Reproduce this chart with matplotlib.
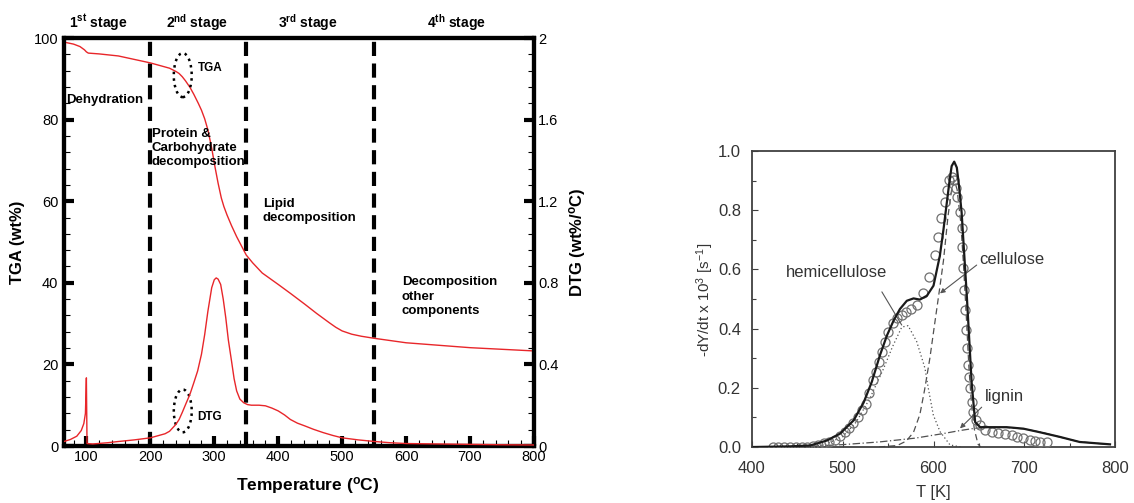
import matplotlib
matplotlib.use('Agg')
import matplotlib.pyplot as plt
from matplotlib.ticker import MultipleLocator, FuncFormatter
from matplotlib.patches import Ellipse

plt.rcParams['font.family'] = ['Liberation Sans', 'DejaVu Sans']
plt.rcParams['mathtext.fontset'] = 'custom'
plt.rcParams['mathtext.rm'] = 'Liberation Sans'
plt.rcParams['mathtext.bf'] = 'Liberation Sans:bold'
plt.rcParams['mathtext.it'] = 'Liberation Sans:italic'

# ---------------- Left chart data (TGA / DTG of biomass) ----------------
tga_temp = [65, 80, 90, 97, 100, 103, 120, 150, 200, 230, 240, 245, 250, 255, 262,
            268, 275, 280, 285, 290, 296, 301, 306, 311, 315, 320, 327, 335, 342,
            350, 360, 375, 400, 420, 442, 460, 480, 490, 500, 515, 530, 550, 600,
            650, 700, 750, 800]
tga_wt = [99.0, 98.5, 97.9, 97.1, 96.6, 96.3, 96.1, 95.6, 93.9, 92.6, 91.8, 91.3,
          90.5, 89.5, 87.9, 86.2, 84.0, 82.3, 80.2, 77.5, 73.0, 68.5, 64.4, 60.8,
          58.7, 56.6, 54.0, 51.3, 49.2, 46.8, 44.9, 42.4, 39.6, 37.3, 34.7, 32.5,
          30.2, 29.1, 28.2, 27.4, 26.9, 26.4, 25.3, 24.7, 24.1, 23.7, 23.3]

dtg_temp = [65, 75, 85, 92, 96, 98.5, 100, 101, 110, 133, 150, 175, 200, 223, 230,
            240, 245, 250, 256, 262, 268, 274, 280, 285, 290, 296, 300, 303, 306,
            310, 314, 318, 322, 327, 331, 335, 340, 346, 352, 358, 370, 380, 390,
            400, 410, 419, 430, 442, 455, 470, 485, 500, 525, 551, 575, 601, 650,
            702, 750, 800]
dtg_rate = [0.022, 0.032, 0.048, 0.076, 0.110, 0.160, 0.334, 0.012, 0.010, 0.016,
            0.022, 0.030, 0.040, 0.060, 0.072, 0.106, 0.130, 0.165, 0.210, 0.254,
            0.310, 0.368, 0.450, 0.546, 0.660, 0.776, 0.815, 0.824, 0.818, 0.792,
            0.720, 0.628, 0.520, 0.416, 0.330, 0.270, 0.230, 0.212, 0.203, 0.200,
            0.200, 0.197, 0.186, 0.172, 0.152, 0.130, 0.112, 0.098, 0.082, 0.066,
            0.052, 0.040, 0.030, 0.022, 0.016, 0.012, 0.010, 0.008, 0.006, 0.005]

stage_bounds = [200, 350, 550]
stage_names = ['1$^{\\mathbf{st}}$ stage', '2$^{\\mathbf{nd}}$ stage',
               '3$^{\\mathbf{rd}}$ stage', '4$^{\\mathbf{th}}$ stage']
stage_centers = [118, 273, 447, 679]

# ---------------- Right chart data (pyrolysis rate, T in K) ----------------
exp_T = [422.8, 429.0, 435.6, 441.9, 448.5, 454.7, 461.0, 467.6, 473.1, 479.3,
         485.2, 491.5, 497.0, 502.5, 506.9, 511.7, 517.2, 521.6, 525.3, 528.9,
         533.0, 536.3, 539.9, 542.9, 546.6, 550.2, 555.0, 559.4, 564.9, 569.7,
         575.2, 581.5, 588.8, 595.0, 601.7, 604.6, 607.9, 612.7, 614.5, 617.4,
         620.0, 622.6, 624.8, 626.3, 629.2, 631.0, 631.8, 632.9, 633.6, 634.7,
         635.8, 636.5, 637.6, 638.8, 640.2, 642.1, 643.9, 646.8, 651.2, 656.7,
         664.1, 671.4, 678.8, 686.1, 692.4, 699.0, 706.3, 711.8, 717.4, 724.7]
exp_rate = [0.0, 0.0, 0.0, 0.0, 0.0, 0.001, 0.001, 0.003, 0.007, 0.012,
            0.018, 0.024, 0.037, 0.052, 0.063, 0.080, 0.102, 0.125, 0.145, 0.181,
            0.226, 0.255, 0.288, 0.322, 0.356, 0.390, 0.418, 0.435, 0.446, 0.457,
            0.466, 0.480, 0.519, 0.575, 0.649, 0.711, 0.773, 0.829, 0.868, 0.902,
            0.913, 0.902, 0.874, 0.846, 0.795, 0.739, 0.677, 0.604, 0.530, 0.463,
            0.395, 0.333, 0.277, 0.238, 0.198, 0.153, 0.119, 0.091, 0.074, 0.057,
            0.052, 0.046, 0.044, 0.041, 0.035, 0.029, 0.024, 0.021, 0.018, 0.018]

model_T = [402, 440, 464, 482.6, 497, 512, 523, 532, 541, 548.6, 556, 563, 570.6,
           578, 585, 592.7, 600, 607, 611, 614.7, 617.5, 620, 622.8, 625.7, 628,
           631, 636.7, 642, 645.9, 651.4, 662.4, 680.7, 699, 717, 739.4, 761, 794.5]
model_rate = [0.0, 0.002, 0.005, 0.022, 0.045, 0.09, 0.15, 0.22, 0.31, 0.376,
              0.427, 0.466, 0.494, 0.502, 0.498, 0.511, 0.545, 0.646, 0.735, 0.826,
              0.895, 0.949, 0.964, 0.944, 0.885, 0.792, 0.511, 0.219, 0.084, 0.067,
              0.067, 0.067, 0.062, 0.05, 0.034, 0.017, 0.009]

hemi_T = [460, 480, 500, 515, 530, 545, 555, 565, 572, 581.5, 590.6, 594.3, 599.8,
          607.2, 618.2, 630]
hemi_rate = [0.0, 0.008, 0.035, 0.085, 0.165, 0.265, 0.340, 0.405, 0.410, 0.356,
             0.266, 0.198, 0.108, 0.052, 0.007, 0.0]

cell_T = [540, 560, 570, 578, 585, 590, 596, 601, 607, 611, 616, 620, 623, 626,
          630, 633, 636, 639, 642, 645, 649, 652]
cell_rate = [0.0, 0.005, 0.02, 0.05, 0.11, 0.19, 0.30, 0.41, 0.54, 0.63, 0.78,
             0.87, 0.90, 0.87, 0.76, 0.62, 0.45, 0.27, 0.14, 0.06, 0.01, 0.0]

lig_T = [420, 460, 500, 540, 580, 610, 630, 645, 660, 680, 700, 720, 740, 760, 795]
lig_rate = [0.0, 0.002, 0.008, 0.017, 0.030, 0.045, 0.056, 0.063, 0.066, 0.066,
            0.061, 0.049, 0.033, 0.018, 0.008]

# ======================================================================
W, H = 1134, 503
fig = plt.figure(figsize=(W / 100, H / 100), dpi=100)

RED = '#e8262a'

# ---------------- Left chart ----------------
ax1 = fig.add_axes([64 / W, (H - 446) / H, 470 / W, 408 / H])
ax2 = ax1.twinx()

ax1.plot(tga_temp, tga_wt, color=RED, lw=1.0, zorder=3)
ax2.plot(dtg_temp, dtg_rate, color=RED, lw=1.0, zorder=3)

ax1.set_xlim(65, 800)
ax1.set_ylim(0, 100)
ax2.set_ylim(0, 2)

for sp in ax1.spines.values():
    sp.set_linewidth(3)
for sp in ax2.spines.values():
    sp.set_linewidth(3)

ax1.xaxis.set_major_locator(MultipleLocator(100))
ax1.xaxis.set_minor_locator(MultipleLocator(20))
ax1.yaxis.set_major_locator(MultipleLocator(20))
ax1.yaxis.set_minor_locator(MultipleLocator(4))
ax2.yaxis.set_major_locator(MultipleLocator(0.4))
ax2.yaxis.set_minor_locator(MultipleLocator(0.08))
ax2.yaxis.set_major_formatter(FuncFormatter(lambda v, p: '%g' % round(v, 2)))

for a in (ax1, ax2):
    a.tick_params(which='major', direction='in', length=7, width=3, labelsize=10.5, pad=3)
    a.tick_params(which='minor', direction='in', length=4, width=0.8)
ax1.tick_params(axis='both', which='both', top=False, right=False)
ax1.tick_params(axis='y', pad=4)

for xb in stage_bounds:
    ax1.axvline(xb, color='black', lw=3, ls=(0, (3.4, 1.8)), zorder=2)

trans = ax1.get_xaxis_transform()
for name, xc in zip(stage_names, stage_centers):
    ax1.text(xc, 1.037, name, transform=trans, ha='center', va='center',
             fontsize=10, fontweight='bold')

ax1.text(68.5, 84.8, 'Dehydration', fontsize=9.5, fontweight='bold', va='center', ha='left')
ax1.text(202, 78.0, 'Protein &\nCarbohydrate\ndecomposition', fontsize=9.5,
         fontweight='bold', va='top', ha='left', linespacing=1.25)
ax1.text(376, 60.8, 'Lipid\ndecomposition', fontsize=9.5, fontweight='bold',
         va='top', ha='left', linespacing=1.25)
ax1.text(593, 41.6, 'Decomposition\nother\ncomponents', fontsize=9.5,
         fontweight='bold', va='top', ha='left', linespacing=1.25)
ax1.text(274, 92.6, 'TGA', fontsize=8.5, fontweight='bold', va='center', ha='left')
ax1.text(274, 7.1, 'DTG', fontsize=8.5, fontweight='bold', va='center', ha='left')

ax1.add_patch(Ellipse((250.7, 90.9), 28, 10.8, fill=False, ls=':', lw=1.8,
                      edgecolor='black', zorder=4))
ax1.add_patch(Ellipse((250.7, 8.6), 28, 10.5, fill=False, ls=':', lw=1.8,
                      edgecolor='black', zorder=4))

fig.text(18 / W, 1 - 242 / H, 'TGA (wt%)', rotation=90, ha='center', va='center',
         fontsize=12, fontweight='bold')
fig.text(578 / W, 1 - 242 / H, 'DTG (wt%/$^{\\mathbf{o}}$C)', rotation=90,
         ha='center', va='center', fontsize=12, fontweight='bold')
fig.text(308 / W, 1 - 486 / H, 'Temperature ($^{\\mathbf{o}}$C)', ha='center',
         va='center', fontsize=12.5, fontweight='bold')

# ---------------- Right chart ----------------
GRAY = '#404040'
ax3 = fig.add_axes([752 / W, (H - 447) / H, 363 / W, 296 / H])
ax3.plot(model_T, model_rate, color='#1a1a1a', lw=1.6, zorder=4)
ax3.plot(exp_T, exp_rate, ls='none', marker='o', ms=6.5, mfc='none',
         mec='#707070', mew=0.9, zorder=3)
ax3.plot(hemi_T, hemi_rate, color='#505050', lw=0.9, ls=(0, (1, 2)), zorder=2)
ax3.plot(cell_T, cell_rate, color='#505050', lw=0.9, ls=(0, (5, 3)), zorder=2)
ax3.plot(lig_T, lig_rate, color='#505050', lw=0.9, ls=(0, (6, 2, 1, 2)), zorder=2)

ax3.set_xlim(400, 800)
ax3.set_ylim(0, 1.0)
ax3.xaxis.set_major_locator(MultipleLocator(100))
ax3.xaxis.set_minor_locator(MultipleLocator(50))
ax3.yaxis.set_major_locator(MultipleLocator(0.2))
ax3.yaxis.set_minor_locator(MultipleLocator(0.1))
ax3.yaxis.set_major_formatter(FuncFormatter(lambda v, p: '%.1f' % v))
ax3.tick_params(which='both', direction='in', color=GRAY, labelcolor='#333333',
                labelsize=12, top=False, right=False)
ax3.tick_params(axis='x', pad=10)
ax3.tick_params(axis='y', pad=8)
ax3.tick_params(which='major', length=4, width=0.8)
ax3.tick_params(which='minor', length=3, width=0.8)
for sp in ax3.spines.values():
    sp.set_linewidth(1.3)
    sp.set_color(GRAY)

arrow_kw = dict(arrowstyle='-|>', color='#555555', lw=0.8, mutation_scale=7,
                shrinkA=0, shrinkB=0)
ax3.annotate('hemicellulose', xy=(565, 0.412), xytext=(492.6, 0.591),
             ha='center', va='center', fontsize=12, color='#333333',
             arrowprops=dict(arrowstyle='-', color='#555555', lw=0.8,
                             shrinkA=8, shrinkB=0,
                             relpos=(0.88, 0.0)))
ax3.annotate('cellulose', xy=(607.2, 0.519), xytext=(686.5, 0.632),
             ha='center', va='center', fontsize=12, color='#333333',
             arrowprops=dict(arrow_kw, relpos=(0.0, 0.3)))
ax3.annotate('lignin', xy=(629.2, 0.063), xytext=(677.7, 0.169),
             ha='center', va='center', fontsize=12, color='#333333',
             arrowprops=dict(arrow_kw, relpos=(0.0, 0.0)))

fig.text(933 / W, 1 - 492 / H, 'T [K]', ha='center', va='center', fontsize=12,
         color='#333333')
fig.text(705 / W, 1 - 300 / H, '-dY/dt x 10$^3$ [s$^{-1}$]', rotation=90,
         ha='center', va='center', fontsize=11, color='#333333')

fig.savefig('out.png', dpi=100, facecolor='white')
